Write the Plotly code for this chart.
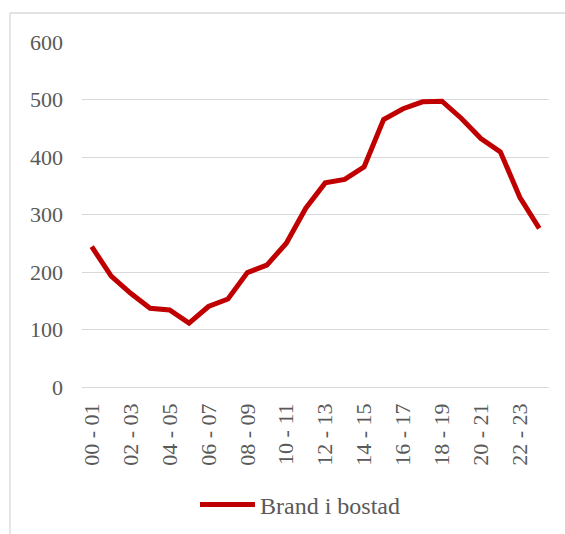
import plotly.graph_objects as go

hours = ["%02d - %02d" % (h, h + 1) for h in range(24)]
values = [244, 193, 163, 137, 134, 111, 140, 153, 199, 212, 250, 311,
          355, 361, 383, 465, 484, 496, 497, 467, 432, 409, 330, 276]
series_name = "Brand i bostad"
y_ticks = [0, 100, 200, 300, 400, 500, 600]

W, H = 565, 534
L, R, T, B = 82, 16, 42, 147
pw, ph = W - L - R, H - T - B

def px_x(px):
    return (px - L) / pw

def px_y(py):
    return (H - B - py) / ph

FAM = "Liberation Serif, Times New Roman, serif"
tick_font = dict(family=FAM, size=22, color="#595959")
leg_font = dict(family=FAM, size=24, color="#595959")

fig = go.Figure()
fig.add_trace(go.Scatter(
    x=hours, y=values, mode="lines", name=series_name,
    line=dict(color="#c00000", width=5, shape="linear"),
    showlegend=True,
))

fig.update_layout(
    width=W, height=H,
    margin=dict(l=L, r=R, t=T, b=B, pad=0, autoexpand=False),
    paper_bgcolor="white", plot_bgcolor="white",
    font=tick_font,
    showlegend=True,
    legend=dict(orientation="h", xref="container", x=300 / W, xanchor="center",
                yref="container", y=(H - 505) / H, yanchor="middle", font=leg_font,
                itemwidth=55, bgcolor="rgba(0,0,0,0)"),
    xaxis=dict(type="category", categoryorder="array", categoryarray=hours,
               range=[-0.5, 23.5], tickmode="array", tickvals=hours[::2],
               ticktext=hours[::2], tickangle=-90, showgrid=False, automargin=False,
               showline=False, ticks="", ticklabelstandoff=11, tickfont=tick_font),
    yaxis=dict(range=[0, 600], tickmode="array", tickvals=y_ticks, automargin=False,
               showgrid=True, gridcolor="#d9d9d9", gridwidth=1.3,
               zeroline=True, zerolinecolor="#d9d9d9", zerolinewidth=1.3,
               showline=False, ticks="", ticklabelstandoff=18, tickfont=tick_font),
    shapes=[
        dict(type="line", xref="paper", yref="paper",
             x0=px_x(10), x1=px_x(566), y0=px_y(13), y1=px_y(13),
             line=dict(color="#d9d9d9", width=1.3)),
        dict(type="line", xref="paper", yref="paper",
             x0=px_x(10), x1=px_x(10), y0=px_y(13), y1=px_y(535),
             line=dict(color="#d9d9d9", width=1.3)),
    ],
)

fig.write_html("out.html")
